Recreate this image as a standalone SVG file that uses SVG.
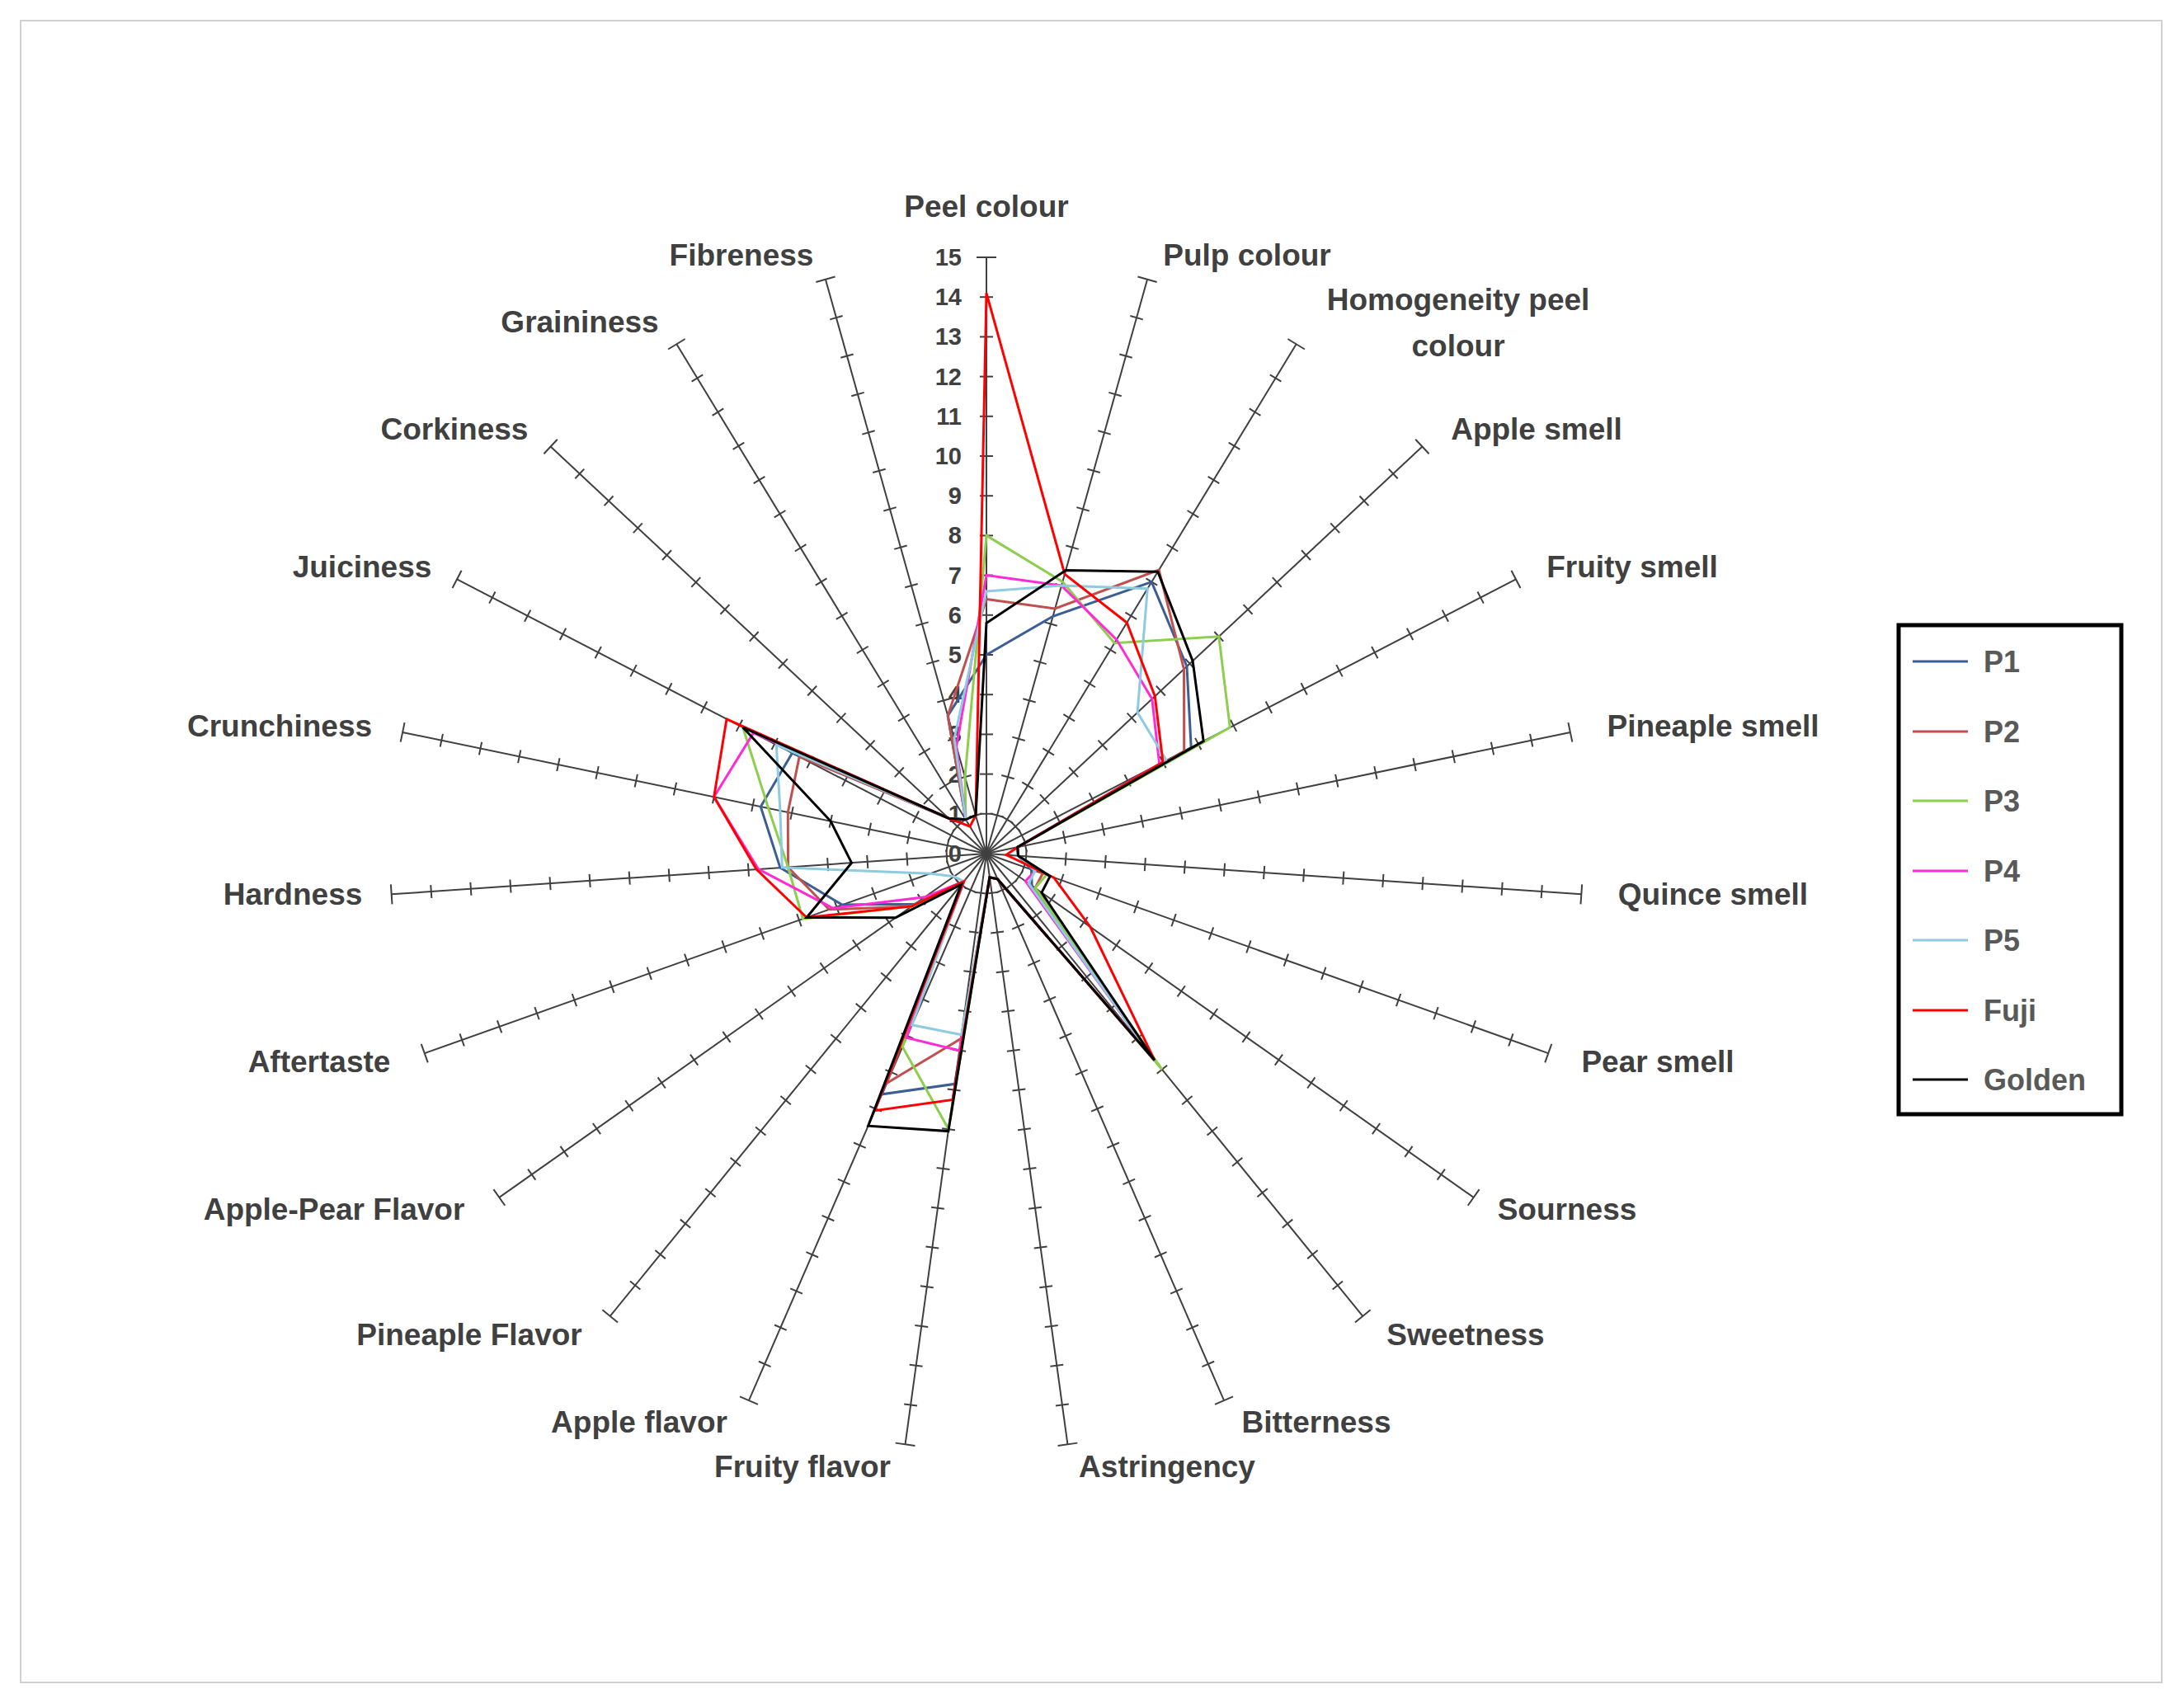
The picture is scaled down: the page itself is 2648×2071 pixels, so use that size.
<svg xmlns="http://www.w3.org/2000/svg" xmlns:xlink="http://www.w3.org/1999/xlink" width="2648" height="2071" viewBox="0 0 2648 2071">
<style>
.lbl{font-family:"Liberation Sans",Arial,sans-serif;font-weight:bold;font-size:37px;fill:#404040;text-anchor:middle}
.num{font-family:"Liberation Sans",Arial,sans-serif;font-weight:bold;font-size:29px;fill:#404040;text-anchor:end}
.leg{font-family:"Liberation Sans",Arial,sans-serif;font-weight:bold;font-size:36px;fill:#595959}
.s{fill:none;stroke-width:3;stroke-linejoin:miter}
.ax line{stroke:#404040;stroke-width:2}
</style>
<defs>
<g id="axis" class="ax">
<line x1="1196" y1="1035" x2="1196" y2="312"/>
<line x1="1188" y1="986.8" x2="1204" y2="986.8"/><line x1="1188" y1="938.6" x2="1204" y2="938.6"/><line x1="1188" y1="890.4" x2="1204" y2="890.4"/><line x1="1188" y1="842.2" x2="1204" y2="842.2"/><line x1="1188" y1="794" x2="1204" y2="794"/><line x1="1188" y1="745.8" x2="1204" y2="745.8"/><line x1="1188" y1="697.6" x2="1204" y2="697.6"/><line x1="1188" y1="649.4" x2="1204" y2="649.4"/><line x1="1188" y1="601.2" x2="1204" y2="601.2"/><line x1="1188" y1="553" x2="1204" y2="553"/><line x1="1188" y1="504.8" x2="1204" y2="504.8"/><line x1="1188" y1="456.6" x2="1204" y2="456.6"/><line x1="1188" y1="408.4" x2="1204" y2="408.4"/><line x1="1188" y1="360.2" x2="1204" y2="360.2"/><line x1="1184" y1="312" x2="1208" y2="312"/>
</g>
</defs>
<rect x="25" y="25" width="2596" height="2015" fill="#fff" stroke="#d0d0d0" stroke-width="2"/>
<g id="axes">
<use xlink:href="#axis"/>
<use xlink:href="#axis" transform="rotate(15.652 1196 1035)"/>
<use xlink:href="#axis" transform="rotate(31.304 1196 1035)"/>
<use xlink:href="#axis" transform="rotate(46.957 1196 1035)"/>
<use xlink:href="#axis" transform="rotate(62.609 1196 1035)"/>
<use xlink:href="#axis" transform="rotate(78.261 1196 1035)"/>
<use xlink:href="#axis" transform="rotate(93.913 1196 1035)"/>
<use xlink:href="#axis" transform="rotate(109.565 1196 1035)"/>
<use xlink:href="#axis" transform="rotate(125.217 1196 1035)"/>
<use xlink:href="#axis" transform="rotate(140.870 1196 1035)"/>
<use xlink:href="#axis" transform="rotate(156.522 1196 1035)"/>
<use xlink:href="#axis" transform="rotate(172.174 1196 1035)"/>
<use xlink:href="#axis" transform="rotate(187.826 1196 1035)"/>
<use xlink:href="#axis" transform="rotate(203.478 1196 1035)"/>
<use xlink:href="#axis" transform="rotate(219.130 1196 1035)"/>
<use xlink:href="#axis" transform="rotate(234.783 1196 1035)"/>
<use xlink:href="#axis" transform="rotate(250.435 1196 1035)"/>
<use xlink:href="#axis" transform="rotate(266.087 1196 1035)"/>
<use xlink:href="#axis" transform="rotate(281.739 1196 1035)"/>
<use xlink:href="#axis" transform="rotate(297.391 1196 1035)"/>
<use xlink:href="#axis" transform="rotate(313.043 1196 1035)"/>
<use xlink:href="#axis" transform="rotate(328.696 1196 1035)"/>
<use xlink:href="#axis" transform="rotate(344.348 1196 1035)"/>
</g>
<g id="scale">
<text class="num" x="1166" y="1045">0</text><text class="num" x="1166" y="997">1</text><text class="num" x="1166" y="949">2</text><text class="num" x="1166" y="900">3</text><text class="num" x="1166" y="852">4</text><text class="num" x="1166" y="804">5</text><text class="num" x="1166" y="756">6</text><text class="num" x="1166" y="708">7</text><text class="num" x="1166" y="659">8</text><text class="num" x="1166" y="611">9</text><text class="num" x="1166" y="563">10</text><text class="num" x="1166" y="515">11</text><text class="num" x="1166" y="467">12</text><text class="num" x="1166" y="418">13</text><text class="num" x="1166" y="370">14</text><text class="num" x="1166" y="322">15</text>
</g>
<g id="series">
<polygon id="P1" class="s" stroke="#3b5f95" points="1196,794 1276.6,747.3 1396.3,705.6 1439,808 1444.2,906.4 1233.8,1027.2 1234.5,1037.6 1250.5,1054.4 1251.1,1073.9 1396.8,1281.8 1209.4,1065.9 1199.9,1063.7 1157.6,1314.3 1069.3,1326.8 1168.6,1068.7 1109.4,1096.2 1021.1,1097.1 945.9,1052.1 922.3,978.1 960.6,913 1150.2,992.2 1171,993.8 1149.2,867.9"/>
<polygon id="P2" class="s" stroke="#c0504d" points="1196,726.5 1279.2,738 1405.1,691.1 1435.5,811.3 1435.7,910.8 1233.8,1027.2 1234.5,1037.6 1264.1,1059.2 1255.1,1076.7 1399.8,1285.5 1209.4,1065.9 1199.9,1063.7 1165.2,1259.4 1075,1313.5 1168.6,1068.7 1105.4,1098.9 1005.2,1102.8 955.5,1051.5 955.3,985 969.2,917.4 1150.2,992.2 1171,993.8 1149.2,867.9"/>
<polygon id="P3" class="s" stroke="#8ccf4d" points="1196,649.4 1288.3,705.5 1351.2,779.7 1477.8,771.8 1491.3,882 1233.8,1027.2 1234.5,1037.6 1268.7,1060.8 1255.1,1076.7 1408.9,1296.7 1209.4,1065.9 1199.9,1063.7 1150.1,1369.3 1094.2,1269.3 1168.6,1068.7 1105.4,1098.9 973.4,1114.1 955.5,1051.5 931.7,980.1 900.7,882 1150.2,992.2 1171,993.8 1170,942.2"/>
<polygon id="P4" class="s" stroke="#ff2bd6" points="1196,697.6 1287,710.1 1353.8,775.6 1396.8,847.5 1405.7,926.3 1233.8,1027.2 1234.5,1037.6 1255,1056 1243.3,1068.4 1399.8,1285.5 1209.4,1065.9 1199.9,1063.7 1163.2,1273.8 1099,1258.3 1168.6,1068.7 1121.2,1087.8 1009.8,1101.2 919.5,1053.9 865.7,966.3 913.5,888.6 1150.2,992.2 1171,993.8 1159.6,905.1"/>
<polygon id="P5" class="s" stroke="#8ecae0" points="1196,716.9 1287,710.1 1391.3,713.8 1379.1,863.9 1414.3,921.9 1233.8,1027.2 1234.5,1037.6 1255,1056 1247.2,1071.1 1396.8,1281.8 1209.4,1065.9 1199.9,1063.7 1165.8,1254.7 1105.8,1242.8 1168.6,1068.7 1156.6,1062.8 1127.9,1059.2 948.3,1051.9 945.9,983 941.3,903 1150.2,992.2 1171,993.8 1157,895.8"/>
<polygon id="Fuji" class="s" stroke="#ff0000" points="1196,355.4 1290.9,696.2 1366.3,755 1400.3,844.2 1410,924.1 1233.8,1027.2 1220,1036.6 1277.8,1064.1 1322,1124 1399.8,1285.5 1209.4,1065.9 1199.9,1063.7 1155,1333.4 1060.6,1346.7 1168.6,1068.7 1105.4,1098.9 978,1112.5 917.1,1054.1 865.7,966.3 881,871.8 1150.2,992.2 1176,1002.1 1183,988.6"/>
<polygon id="Golden" class="s" stroke="#000000" points="1196,755.4 1292.2,691.6 1403.8,693.2 1446.1,801.4 1459.2,898.6 1233.8,1027.2 1234.5,1037.6 1273.2,1062.4 1262.9,1082.3 1399.8,1285.5 1209.4,1065.9 1199.9,1063.7 1149.8,1371.6 1052.6,1365.2 1165.6,1072.4 1085.7,1112.8 978,1112.5 1032.5,1046.2 1007.2,995.8 900.7,882 1150.2,992.2 1171,993.8 1183,988.6"/>
</g>
<g id="labels">
<text class="lbl" x="1196" y="263">Peel colour</text>
<text class="lbl" x="1512" y="322">Pulp colour</text>
<text class="lbl" x="1768" y="376">Homogeneity peel</text>
<text class="lbl" x="1768" y="432">colour</text>
<text class="lbl" x="1863" y="533">Apple smell</text>
<text class="lbl" x="1979" y="700">Fruity smell</text>
<text class="lbl" x="2077" y="893">Pineaple smell</text>
<text class="lbl" x="2077" y="1097">Quince smell</text>
<text class="lbl" x="2010" y="1300">Pear smell</text>
<text class="lbl" x="1900" y="1479">Sourness</text>
<text class="lbl" x="1777" y="1631">Sweetness</text>
<text class="lbl" x="1596" y="1737">Bitterness</text>
<text class="lbl" x="1415" y="1791">Astringency</text>
<text class="lbl" x="973" y="1791">Fruity flavor</text>
<text class="lbl" x="775" y="1737">Apple flavor</text>
<text class="lbl" x="569" y="1631">Pineaple Flavor</text>
<text class="lbl" x="405" y="1479">Apple-Pear Flavor</text>
<text class="lbl" x="387" y="1300">Aftertaste</text>
<text class="lbl" x="355" y="1097">Hardness</text>
<text class="lbl" x="339" y="893">Crunchiness</text>
<text class="lbl" x="439" y="700">Juiciness</text>
<text class="lbl" x="551" y="533">Corkiness</text>
<text class="lbl" x="703" y="403">Graininess</text>
<text class="lbl" x="899" y="322">Fibreness</text>
</g>
<g id="legend">
<rect x="2302" y="758" width="270" height="593" fill="#fff" stroke="#000" stroke-width="5"/>
<line x1="2319" y1="802" x2="2386" y2="802" stroke="#3b5f95" stroke-width="3"/><text class="leg" x="2405" y="815">P1</text>
<line x1="2319" y1="887" x2="2386" y2="887" stroke="#c0504d" stroke-width="3"/><text class="leg" x="2405" y="900">P2</text>
<line x1="2319" y1="971" x2="2386" y2="971" stroke="#8ccf4d" stroke-width="3"/><text class="leg" x="2405" y="984">P3</text>
<line x1="2319" y1="1056" x2="2386" y2="1056" stroke="#ff2bd6" stroke-width="3"/><text class="leg" x="2405" y="1069">P4</text>
<line x1="2319" y1="1140" x2="2386" y2="1140" stroke="#8ecae0" stroke-width="3"/><text class="leg" x="2405" y="1153">P5</text>
<line x1="2319" y1="1225" x2="2386" y2="1225" stroke="#ff0000" stroke-width="3"/><text class="leg" x="2405" y="1238">Fuji</text>
<line x1="2319" y1="1309" x2="2386" y2="1309" stroke="#000000" stroke-width="3"/><text class="leg" x="2405" y="1322">Golden</text>
</g>
</svg>
